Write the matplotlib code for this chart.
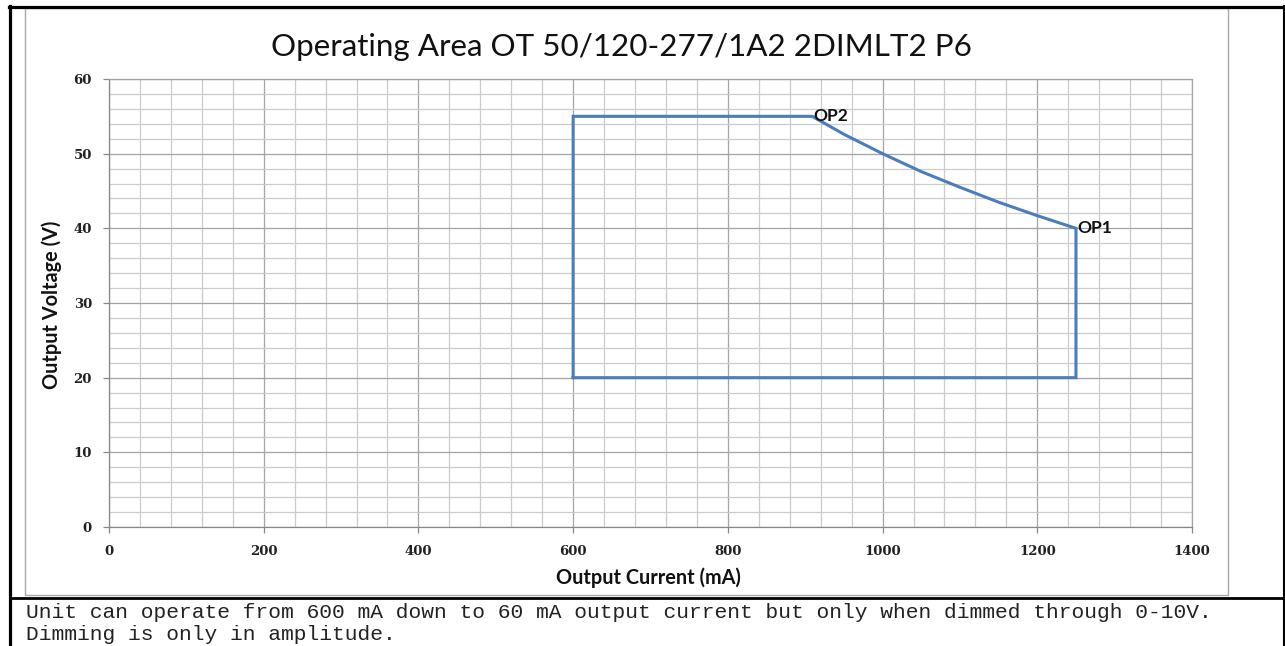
import matplotlib
matplotlib.use("Agg")
import matplotlib.pyplot as plt
from matplotlib.lines import Line2D
from matplotlib.patches import Rectangle

# ---------------- data ----------------
current_ma = [600, 600, 909, 950, 1000, 1050, 1100, 1150, 1200, 1250, 1250, 600]
voltage_v = [20, 55, 55, 52.6, 50, 47.6, 45.5, 43.5, 41.7, 40, 20, 20]
point_labels = ["OP1", "OP2"]
point_current = [1250, 909]
point_voltage = [40, 55]
x_ticks = [0, 200, 400, 600, 800, 1000, 1200, 1400]
y_ticks = [0, 10, 20, 30, 40, 50, 60]
title = "Operating Area OT 50/120-277/1A2 2DIMLT2 P6"
x_label = "Output Current (mA)"
y_label = "Output Voltage (V)"
caption_lines = [
    "Unit can operate from 600 mA down to 60 mA output current but only when dimmed through 0-10V.",
    "Dimming is only in amplitude.",
]

# ---------------- figure ----------------
W, H = 1285, 646
fig = plt.figure(figsize=(W / 100, H / 100), dpi=100)
fig.patch.set_facecolor("white")


def fx(px):
    return px / W


def fy(py):
    return 1 - py / H


ax_l, ax_r, ax_t, ax_b = 109, 1192, 79, 527
ax = fig.add_axes([fx(ax_l), fy(ax_b), fx(ax_r) - fx(ax_l), fy(ax_t) - fy(ax_b)])

ax.plot(current_ma, voltage_v, color="#4A7EBB", lw=2.2, solid_joinstyle="miter", zorder=3)

op_texts = []
for lab, cx, vy in zip(point_labels, point_current, point_voltage):
    op_texts.append(ax.annotate(lab, (cx, vy), xytext=(1, 0), textcoords="offset pixels",
                                ha="left", va="center", fontfamily="Lato", fontweight="bold",
                                fontsize=12, color="#111111", zorder=4))

ax.set_xlim(0, 1400)
ax.set_ylim(0, 60)
ax.set_xticks(x_ticks)
ax.set_yticks(y_ticks)
ax.set_xticks(range(0, 1401, 40), minor=True)
ax.set_yticks(range(0, 61, 2), minor=True)
ax.set_axisbelow(True)
ax.grid(which="minor", color="#cbcbcb", lw=0.9)
ax.grid(which="major", color="#a3a3a3", lw=0.9)
ax.tick_params(which="minor", length=0)
ax.tick_params(which="major", length=4.3, width=0.9, color="#888888", direction="out")
ax.tick_params(axis="x", pad=8.6)
ax.tick_params(axis="y", pad=8.0)
for lbl in ax.get_xticklabels() + ax.get_yticklabels():
    lbl.set_fontfamily("DejaVu Serif")
    lbl.set_fontweight("bold")
    lbl.set_fontsize(9.5)
    lbl.set_color("#222222")
for s in ["left", "bottom"]:
    ax.spines[s].set_color("#888888")
    ax.spines[s].set_linewidth(0.9)
for s in ["top", "right"]:
    ax.spines[s].set_color("#a3a3a3")
    ax.spines[s].set_linewidth(0.9)

# texts
t_title = fig.text(fx(621), fy(47), title, ha="center", va="center",
                   fontfamily="Lato", fontsize=22, color="#111111")
t_xl = fig.text(fx(648), fy(578), x_label, ha="center", va="center",
                fontfamily="Lato", fontweight="bold", fontsize=12, color="#111111")
t_yl = fig.text(fx(52), fy(305), y_label, ha="center", va="center", rotation=90,
                fontfamily="Lato", fontweight="bold", fontsize=12, color="#111111")
t_c1 = fig.text(fx(26), fy(612), caption_lines[0], ha="left", va="center",
                fontfamily="Liberation Mono", fontsize=15, color="#222222")
t_c2 = fig.text(fx(26), fy(635), caption_lines[1], ha="left", va="center",
                fontfamily="Liberation Mono", fontsize=15, color="#222222")

# frame of chart and table borders
fig.add_artist(Rectangle((fx(25), fy(595)), fx(1228) - fx(25), fy(8) - fy(595),
                         transform=fig.transFigure, fill=False, edgecolor="#a8a8a8", lw=1.0))
fig.add_artist(Line2D([fx(9), fx(1285)], [fy(7), fy(7)], transform=fig.transFigure,
                      color="black", lw=2.3))
fig.add_artist(Line2D([fx(10), fx(10)], [fy(6), fy(646)], transform=fig.transFigure,
                      color="black", lw=2.3))
fig.add_artist(Line2D([fx(1284), fx(1284)], [fy(6), fy(646)], transform=fig.transFigure,
                      color="black", lw=1.5))
fig.add_artist(Line2D([fx(10), fx(1285)], [fy(598), fy(598)], transform=fig.transFigure,
                      color="black", lw=2.0))

# fit text widths to the reference
fig.canvas.draw()
r = fig.canvas.get_renderer()


def fit(t, target):
    bb = t.get_window_extent(r)
    t.set_fontsize(t.get_fontsize() * target / bb.width)


fit(t_title, 698)
fit(t_xl, 183)
t_yl.set_fontsize(t_xl.get_fontsize())
fit(op_texts[1], 35)
op_texts[0].set_fontsize(op_texts[1].get_fontsize())
fit(t_c1, 1186)
t_c2.set_fontsize(t_c1.get_fontsize())

fig.savefig("out.png", dpi=100, facecolor="white")
